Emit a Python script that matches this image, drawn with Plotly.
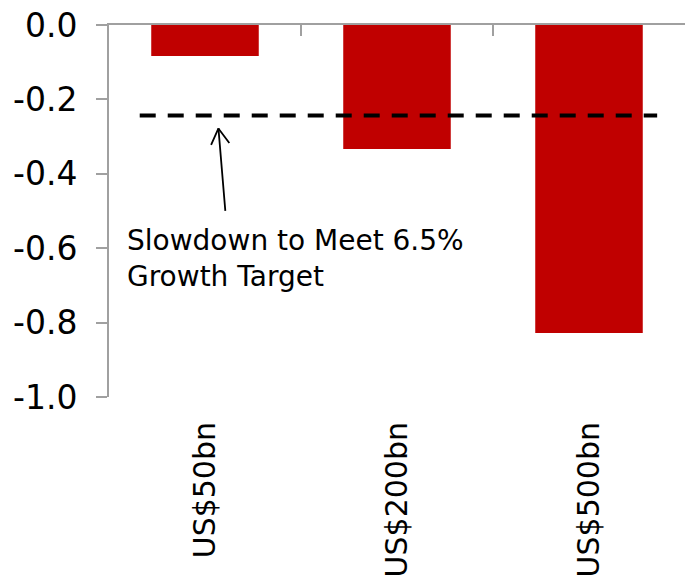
import plotly.graph_objects as go

# Impact on GDP growth (ppt) by size of the shock
categories = ["US$50bn", "US$200bn", "US$500bn"]
impact = [-0.083, -0.333, -0.828]
slowdown_target = -0.243
y_ticks = [0.0, -0.2, -0.4, -0.6, -0.8, -1.0]
y_tick_text = ["0.0", "-0.2", "-0.4", "-0.6", "-0.8", "-1.0"]
note_text = "Slowdown to Meet 6.5%<br>Growth Target"

FONT = "DejaVu Sans"
AXIS_GREY = "#A0A0A0"

fig = go.Figure()
fig.add_trace(go.Bar(
    x=categories, y=impact, width=0.56,
    marker=dict(color="#C00000", line=dict(width=0)),
    showlegend=False,
))

# zero line along the top, with ticks between categories
fig.add_trace(go.Scatter(x=[0, 1, 2], y=[None, None, None], xaxis="x2",
                         showlegend=False, hoverinfo="skip"))

# threshold line
fig.add_shape(type="line", xref="x", yref="y",
              x0=-0.34, x1=2.355, y0=slowdown_target, y1=slowdown_target,
              line=dict(color="black", width=4, dash="16px,12px"))

# arrow pointing at the threshold: shaft plus an open chevron head
tip_x, tip_y = 0.07, slowdown_target - 0.035
arrow_parts = [(7, 84), (-8, 18), (12, 16)]  # pixel offsets from the tip
for ax_off, ay_off in arrow_parts:
    fig.add_annotation(x=tip_x, y=tip_y, xref="x", yref="y",
                       text="", showarrow=True, ax=ax_off, ay=ay_off,
                       arrowhead=0, arrowwidth=1.8, arrowcolor="black")

fig.add_annotation(x=-0.415, y=-0.628, xref="x", yref="y",
                   text=note_text, showarrow=False, align="left",
                   xanchor="left", yanchor="middle",
                   font=dict(family=FONT, size=28, color="black"))

fig.update_layout(
    width=685, height=581,
    margin=dict(l=109, r=0, t=25, b=184, autoexpand=False),
    paper_bgcolor="white", plot_bgcolor="white",
    bargap=0.44,
    xaxis=dict(
        type="category", range=[-0.5, 2.5], automargin=False,
        showline=False, showgrid=False, zeroline=False,
        ticks="outside", ticklen=12, tickcolor="rgba(0,0,0,0)",
        tickangle=-90,
        tickfont=dict(family=FONT, size=30, color="black"),
    ),
    xaxis2=dict(
        overlaying="x", side="top", anchor="y", range=[-0.5, 2.5],
        showline=True, linecolor=AXIS_GREY, linewidth=2,
        tickvals=[0.5, 1.5], ticks="inside", ticklen=11,
        tickcolor=AXIS_GREY, tickwidth=2,
        showticklabels=False, showgrid=False, zeroline=False,
    ),
    yaxis=dict(
        range=[-1.0, 0.0], tickvals=y_ticks, ticktext=y_tick_text,
        automargin=False,
        showline=True, linecolor=AXIS_GREY, linewidth=2,
        ticks="outside", ticklen=11, tickcolor=AXIS_GREY, tickwidth=2,
        ticklabelstandoff=12,
        showgrid=False, zeroline=False,
        tickfont=dict(family=FONT, size=33, color="black"),
    ),
)

fig.write_html("out.html")
